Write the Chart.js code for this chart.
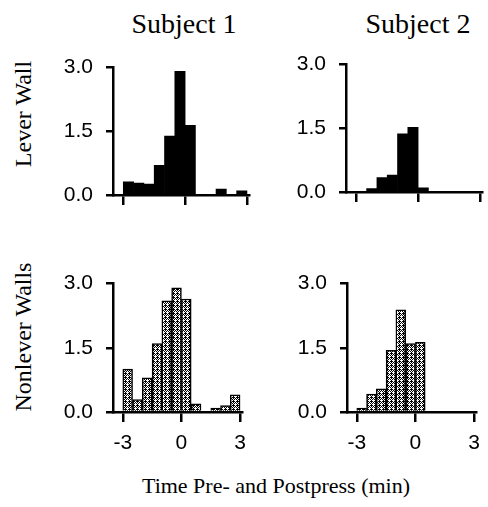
<!DOCTYPE html>
<html>
<head>
<meta charset="utf-8">
<script src="https://cdn.jsdelivr.net/npm/chart.js@4.4.1/dist/chart.umd.min.js"></script>
<style>
  html, body { margin: 0; padding: 0; background: #fff; }
  #page { position: relative; width: 488px; height: 507px; overflow: hidden; background: #fff; }
  #page canvas { position: absolute; }
  .lbl { position: absolute; font-family: "Liberation Serif", "Times New Roman", serif; color: #000; white-space: nowrap; line-height: 1; transform: translate(-50%, -50%); }
  .rot { transform: translate(-50%, -50%) rotate(-90deg); }
</style>
</head>
<body>
<div id="page">
  <div class="lbl" style="left:184px; top:24px; font-size:28px;">Subject 1</div>
  <div class="lbl" style="left:418px; top:24px; font-size:28px;">Subject 2</div>
  <div class="lbl rot" style="left:23px; top:114px; font-size:24px;">Lever Wall</div>
  <div class="lbl rot" style="left:23px; top:337px; font-size:24px;">Nonlever Walls</div>
  <div class="lbl" style="left:276px; top:486px; font-size:22px;">Time Pre- and Postpress (min)</div>
  <canvas id="s1lever"></canvas>
  <canvas id="s2lever"></canvas>
  <canvas id="s1non"></canvas>
  <canvas id="s2non"></canvas>
</div>
<script>
// half-minute bins from -3 to +3 min around the press
const binCenters = [-2.75, -2.25, -1.75, -1.25, -0.75, -0.25, 0.25, 0.75, 1.25, 1.75, 2.25, 2.75];
const s1Lever    = [0.31, 0.28, 0.26, 0.70, 1.39, 2.91, 1.64, 0, 0, 0.14, 0, 0.10];
const s2Lever    = [0, 0.08, 0.34, 0.40, 1.37, 1.52, 0.10, 0, 0, 0, 0, 0];
const s1Nonlever = [1.00, 0.29, 0.80, 1.60, 2.60, 2.90, 2.64, 0.19, 0, 0.09, 0.15, 0.40];
const s2Nonlever = [0.09, 0.42, 0.54, 1.44, 2.39, 1.60, 1.63, 0, 0, 0, 0, 0];
const yTicks = [0, 1.5, 3.0];
const xTicks = [-3, 0, 3];

// crosshatch tile for the nonlever bars, 1 = black pixel
const hatchRows = ['1010', '0101', '1000', '1101'];
function hatch() {
    let c = document.createElement('canvas');
    c.width = 4; c.height = 4;
    let g = c.getContext('2d');
    g.fillStyle = '#fff';
    g.fillRect(0, 0, 4, 4);
    g.fillStyle = '#000';
    hatchRows.forEach((row, y) => {
        row.split('').forEach((p, x) => { if (p === '1') g.fillRect(x, y, 1, 1); });
    });
    return g.createPattern(c, 'repeat');
}
const hatchFill = hatch();

const YW = 60, XH = 50, PT = 10, PR = 6;

function makePanel(id, values, filled, showX, area) {
    let cv = document.getElementById(id);
    cv.width = area.right - area.left + YW + PR;
    cv.height = area.bottom - area.top + PT + XH;
    cv.style.left = (area.left - YW) + 'px';
    cv.style.top = (area.top - PT) + 'px';

    return new Chart(cv, {
        type: 'bar',
        data: {
            datasets: [{
                data: binCenters.map((x, i) => ({ x: x, y: values[i] })),
                backgroundColor: filled ? '#000' : hatchFill,
                borderColor: '#000',
                borderWidth: filled ? 0 : 1.5,
                barPercentage: 1,
                categoryPercentage: 1
            }]
        },
        options: {
            responsive: false,
            devicePixelRatio: 1,
            animation: false,
            layout: { padding: { left: 0, top: PT, right: PR, bottom: 0 } },
            plugins: { legend: { display: false }, tooltip: { enabled: false } },
            scales: {
                x: {
                    type: 'linear',
                    min: -3.5,
                    max: 3.1,
                    offset: false,
                    z: 1,
                    afterFit: s => { s.height = XH; },
                    afterBuildTicks: s => { s.ticks = xTicks.map(v => ({ value: v })); },
                    border: { display: true, color: '#000', width: 2.5 },
                    grid: { offset: false, drawOnChartArea: false, drawTicks: true, tickLength: 10, color: '#000', lineWidth: 2.5 },
                    ticks: {
                        display: showX,
                        color: '#000',
                        padding: 9,
                        maxRotation: 0,
                        font: { family: '"Liberation Sans", Arial, sans-serif', size: 21 },
                        callback: v => String(v)
                    }
                },
                y: {
                    min: 0,
                    max: 3,
                    z: 1,
                    afterFit: s => { s.width = YW; },
                    afterBuildTicks: s => { s.ticks = yTicks.map(v => ({ value: v })); },
                    border: { display: true, color: '#000', width: 2.5 },
                    grid: { drawOnChartArea: false, drawTicks: true, tickLength: 7, color: '#000', lineWidth: 2.5 },
                    ticks: {
                        color: '#000',
                        padding: 13,
                        font: { family: '"Liberation Sans", Arial, sans-serif', size: 21 },
                        callback: v => v.toFixed(1)
                    }
                }
            }
        }
    });
}

makePanel('s1lever', s1Lever, true, false, { left: 113, right: 249, top: 52, bottom: 195 });
makePanel('s2lever', s2Lever, true, false, { left: 346, right: 482, top: 49, bottom: 192 });
makePanel('s1non', s1Nonlever, false, true, { left: 113, right: 249, top: 268, bottom: 412 });
makePanel('s2non', s2Nonlever, false, true, { left: 347, right: 483, top: 268, bottom: 412 });
</script>
</body>
</html>
